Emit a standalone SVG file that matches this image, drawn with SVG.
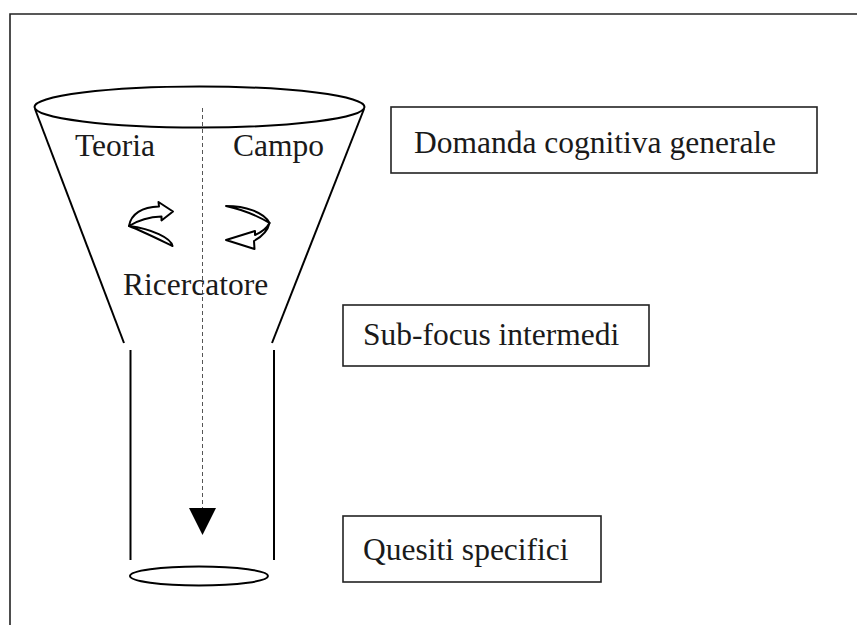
<svg xmlns="http://www.w3.org/2000/svg" width="857" height="625" viewBox="0 0 857 625">
<defs>
<style>
.t{font-family:"Liberation Serif","Times New Roman",serif;font-size:31.5px;fill:#1a1a1a}
.box{fill:#fff;stroke:#222;stroke-width:1.6}
.ln{fill:none;stroke:#000;stroke-width:2}
.arr{fill:#fff;stroke:#000;stroke-width:2;stroke-linejoin:round}
</style>
</defs>
<rect width="857" height="625" fill="#fff"/>
<path d="M10,626 L10,14 L858,14" fill="none" stroke="#222" stroke-width="1.6"/>
<g id="funnel">
<ellipse cx="199.5" cy="107" rx="165" ry="20.5" class="ln"/>
<line x1="35" y1="109" x2="124" y2="343" class="ln"/>
<line x1="364" y1="109" x2="272" y2="343" class="ln"/>
<line x1="130.5" y1="350" x2="130.5" y2="560" class="ln"/>
<line x1="274" y1="350" x2="274" y2="560" class="ln"/>
<ellipse cx="199" cy="576" rx="69" ry="9.5" class="ln"/>
</g>
<g id="connectors">
<line x1="202.5" y1="108" x2="202.5" y2="508" stroke="#555" stroke-width="1" stroke-dasharray="4,3"/>
<polygon points="189,508 216,508 202.5,535" fill="#000"/>
</g>
<g id="labels">
<text class="t" x="75" y="156">Teoria</text>
<text class="t" x="233" y="156">Campo</text>
<text class="t" x="123" y="295">Ricercatore</text>
</g>
<g id="cycle-left">
<path class="arr" d="M129,226 C131,214 142,207 159,206.5 L158.5,202 L173,211.5 L161.5,220.5 L161.5,216.5 C148,217 137,221 129,226 Z"/>
<path class="arr" d="M129,226 C142,231 160,240 172.5,246 C171,238 152,229 129,226 Z"/>
</g>
<g id="cycle-right">
<path class="arr" d="M226,206 C245,206 264,212 269.5,223 C256,215 240,209 226,206 Z"/>
<path class="arr" d="M269.5,223 C268,230 263,236 254,241 L254.5,249 L226,240 L255,231 L255,235 C262,232 267,228 269.5,223 Z"/>
</g>
<g id="box-domanda">
<rect class="box" x="391" y="107" width="426" height="66"/>
<text class="t" x="414" y="153">Domanda cognitiva generale</text>
</g>
<g id="box-subfocus">
<rect class="box" x="343" y="305" width="306" height="61"/>
<text class="t" x="363" y="345">Sub-focus intermedi</text>
</g>
<g id="box-quesiti">
<rect class="box" x="343" y="516" width="258" height="66"/>
<text class="t" x="363" y="560">Quesiti specifici</text>
</g>
</svg>
